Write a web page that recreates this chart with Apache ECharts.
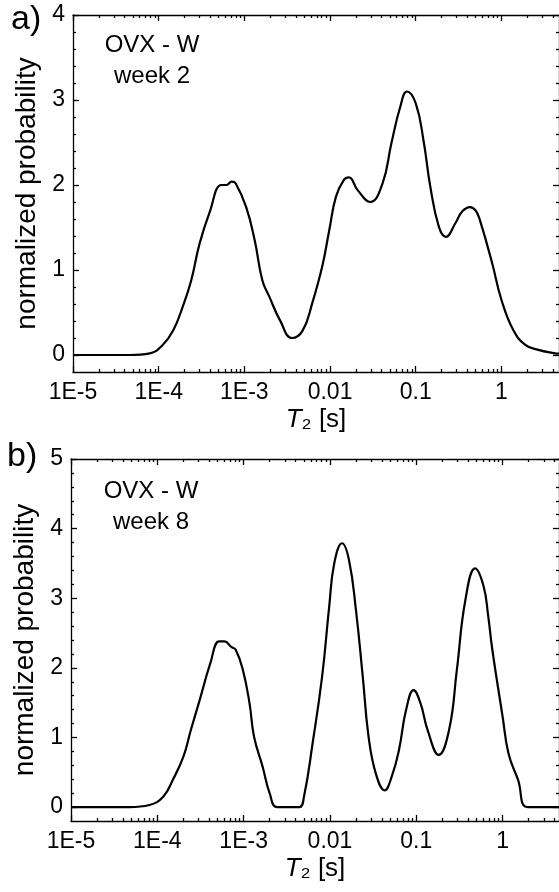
<!DOCTYPE html>
<html>
<head>
<meta charset="utf-8">
<script type="text/javascript" src="https://cdn.jsdelivr.net/npm/echarts@6/dist/echarts.min.js"></script>
<title>T2 distributions</title>
<style>
  html, body { margin: 0; padding: 0; background: #fff; }
</style>
</head>
<body>
<div id="chart" style="width:559px;height:892px"></div>
<script type="text/javascript">
// panel a) OVX - W, week 2
var t2A = [1e-5, 4.6e-5, 7.9e-5, 1.12e-4, 1.48e-4, 1.91e-4, 2.4e-4, 3.0e-4, 3.9e-4, 5.4e-4,
           6.2e-4, 7.1e-4, 7.9e-4, 1.05e-3, 1.32e-3, 1.62e-3, 1.95e-3, 2.6e-3, 3.6e-3, 4.8e-3,
           6.2e-3, 8.1e-3, 9.8e-3, 0.0117, 0.0145, 0.0166, 0.021, 0.0295, 0.041, 0.052,
           0.066, 0.079, 0.1, 0.123, 0.148, 0.186, 0.224, 0.29, 0.35, 0.43,
           0.5, 0.56, 0.78, 1.0, 1.38, 1.9, 2.7, 4.2, 4.7];
var probA = [0, 0, 0.02, 0.12, 0.29, 0.57, 0.88, 1.31, 1.67, 2.0,
             2.0, 2.04, 2.02, 1.74, 1.35, 0.88, 0.69, 0.41, 0.2, 0.29,
             0.61, 1.04, 1.47, 1.86, 2.06, 2.09, 1.94, 1.80, 2.02, 2.49,
             2.92, 3.10, 2.96, 2.53, 1.98, 1.51, 1.39, 1.55, 1.69, 1.74,
             1.70, 1.59, 1.08, 0.65, 0.29, 0.12, 0.06, 0.02, 0.015];

// panel b) OVX - W, week 8
var t2B = [1e-5, 4.8e-5, 8.1e-5, 1.17e-4, 1.51e-4, 2.0e-4, 2.45e-4, 3.1e-4, 4.1e-4, 5.2e-4,
           6.0e-4, 7.2e-4, 8.1e-4, 9.8e-4, 1.17e-3, 1.32e-3, 1.66e-3, 2.0e-3, 2.45e-3, 4.4e-3,
           5.0e-3, 6.3e-3, 8.1e-3, 9.8e-3, 0.0112, 0.0138, 0.0166, 0.020, 0.024, 0.028,
           0.034, 0.043, 0.052, 0.063, 0.076, 0.093, 0.112, 0.135, 0.182, 0.24,
           0.295, 0.37, 0.48, 0.60, 0.68, 0.76, 1.0, 1.17, 1.51, 1.95,
           4.5];
var probB = [0, 0, 0.03, 0.15, 0.39, 0.72, 1.11, 1.54, 2.06, 2.38,
             2.38, 2.30, 2.26, 1.97, 1.49, 1.01, 0.58, 0.20, 0, 0,
             0.15, 0.92, 1.87, 2.88, 3.50, 3.79, 3.55, 2.83, 1.87, 1.01,
             0.48, 0.24, 0.44, 0.82, 1.39, 1.68, 1.49, 1.11, 0.75, 1.11,
             1.97, 2.97, 3.43, 3.18, 2.75, 2.26, 1.30, 0.77, 0.39, 0,
             0];

// tick labels (positions are decade exponents)
var xTickExp = [-5, -4, -3, -2, -1, 0];
var xTickLabels = ['1E-5', '1E-4', '1E-3', '0.01', '0.1', '1'];
var yTicksA = [0, 1, 2, 3, 4];
var yTicksB = [0, 1, 2, 3, 4, 5];

var FONT = '"Liberation Sans", Arial, sans-serif';
var lineStyle = {color: '#000', width: 1.3};

function minorExp(xMax){
   var out = [];
   for (var d = -5; d <= 0; d++){
      for (var k = 2; k <= 9; k++){
         var v = k * Math.pow(10, d);
         if (v < xMax) out.push(Math.log10(v));
      }
   }
   return out;
}

function minorY(yMax){
   var out = [];
   for (var v = 1; v < yMax * 5; v++){
      if (v % 5 != 0) out.push(v / 5);
   }
   return out;
}

function makeX(g, xMax){
   var lmax = Math.log10(xMax);
   var minors = minorExp(xMax);
   function ax(pos, ticks, len, line){
      return {
         type: 'value', gridIndex: g, position: pos, min: -5, max: lmax,
         splitLine: {show: false},
         axisLine: {show: line, onZero: false, lineStyle: lineStyle},
         axisTick: {show: true, inside: true, length: len, customValues: ticks, lineStyle: lineStyle},
         axisLabel: {show: false}
      };
   }
   var main = ax('bottom', xTickExp, 6, true);
   main.axisLabel = {
      show: true, customValues: xTickExp, margin: 9,
      fontSize: 23, fontFamily: FONT, color: '#000',
      formatter: function(v){ return xTickLabels[xTickExp.indexOf(v)]; }
   };
   main.name = '{i|T}₂ [s]';
   main.nameLocation = 'middle';
   main.nameGap = 35;
   main.nameTextStyle = {
      fontSize: 26, fontFamily: FONT, color: '#000',
      rich: {i: {fontSize: 26, fontFamily: FONT, fontStyle: 'italic', color: '#000'}}
   };
   return [
      {type: 'log', logBase: 10, gridIndex: g, min: 1e-5, max: xMax, show: false},
      main,
      ax('bottom', minors, 3, false),
      ax('top', xTickExp, 6, true),
      ax('top', minors, 3, false)
   ];
}

function makeY(g, yMax, majors){
   var minors = minorY(yMax);
   function ax(pos, ticks, len, line){
      return {
         type: 'value', gridIndex: g, position: pos, min: -0.2, max: yMax,
         splitLine: {show: false},
         axisLine: {show: line, onZero: false, lineStyle: lineStyle},
         axisTick: {show: true, inside: true, length: len, customValues: ticks, lineStyle: lineStyle},
         axisLabel: {show: false}
      };
   }
   var main = ax('left', majors, 6, true);
   main.axisLabel = {
      show: true, customValues: majors, margin: 8,
      fontSize: 23, fontFamily: FONT, color: '#000'
   };
   main.name = 'normalized probability';
   main.nameLocation = 'middle';
   main.nameGap = 26;
   main.nameTextStyle = {fontSize: 28, fontFamily: FONT, color: '#000'};
   return [
      main,
      ax('left', minors, 3, false),
      ax('right', majors, 6, true),
      ax('right', minors, 3, false)
   ];
}

function pairs(t, p){
   return t.map(function(x, i){ return [x, p[i]]; });
}

var xMaxA = 4.7, xMaxB = 4.5;

var option = {
   backgroundColor: '#fff',
   animation: false,
   textStyle: {fontFamily: FONT},
   grid: [
      {left: 73, top: 15, width: 488, height: 357},
      {left: 71, top: 459, width: 490, height: 362}
   ],
   xAxis: makeX(0, xMaxA).concat(makeX(1, xMaxB)),
   yAxis: makeY(0, 4, yTicksA).concat(makeY(1, 5, yTicksB)),
   series: [
      {
         type: 'line', xAxisIndex: 0, yAxisIndex: 0,
         data: pairs(t2A, probA),
         symbol: 'none', smooth: 0.45,
         lineStyle: {color: '#000', width: 2.2}
      },
      {
         type: 'line', xAxisIndex: 5, yAxisIndex: 4,
         data: pairs(t2B, probB),
         symbol: 'none', smooth: 0.45,
         lineStyle: {color: '#000', width: 2.2}
      }
   ],
   graphic: [
      {type: 'text', x: 11, y: 20, style: {text: 'a)', fontSize: 34, fontFamily: FONT, fill: '#000', verticalAlign: 'middle'}},
      {type: 'text', x: 7, y: 457, style: {text: 'b)', fontSize: 34, fontFamily: FONT, fill: '#000', verticalAlign: 'middle'}},
      {type: 'text', x: 152, y: 45, style: {text: 'OVX - W', fontSize: 24, fontFamily: FONT, fill: '#000', align: 'center', verticalAlign: 'middle'}},
      {type: 'text', x: 152, y: 76, style: {text: 'week 2', fontSize: 24, fontFamily: FONT, fill: '#000', align: 'center', verticalAlign: 'middle'}},
      {type: 'text', x: 151, y: 491, style: {text: 'OVX - W', fontSize: 24, fontFamily: FONT, fill: '#000', align: 'center', verticalAlign: 'middle'}},
      {type: 'text', x: 151, y: 522, style: {text: 'week 8', fontSize: 24, fontFamily: FONT, fill: '#000', align: 'center', verticalAlign: 'middle'}}
   ]
};

var myChart = echarts.init(document.getElementById('chart'));
myChart.setOption(option);
</script>
</body>
</html>
